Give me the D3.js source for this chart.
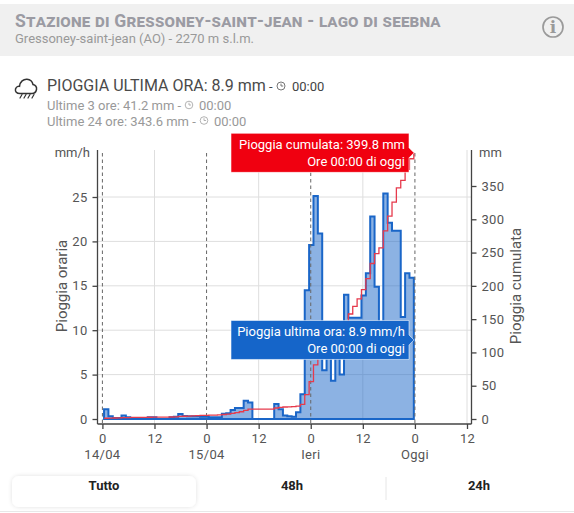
<!DOCTYPE html>
<html lang="it">
<head>
<meta charset="utf-8">
<title>Gressoney-saint-jean - pioggia</title>
<script src="https://cdn.jsdelivr.net/npm/d3@7"></script>
<style>
  html, body { margin: 0; padding: 0; background: #fff; }
  svg { display: block; font-family: Roboto, "Liberation Sans", sans-serif; }
  .axis path, .axis line { stroke: #444; stroke-width: 1.3; }
  .axis text { font-size: 13px; fill: #555; font-family: Roboto, sans-serif; letter-spacing: .3px; }
</style>
</head>
<body>
<svg id="chart" width="574" height="513"></svg>
<script>
// Hourly rainfall (mm/h), one sample per hour from 14/04 00:00 to today 00:00
const hourlyRain = [
  1.1, 0.3, 0.1, 0.1, 0.4, 0.2, 0.1, 0.1, 0, 0, 0.2, 0.2,
  0, 0, 0, 0.2, 0.25, 0.55, 0.35, 0.3, 0.3, 0.3, 0.25, 0.25,
  0.2, 0.2, 0.2, 0.6, 0.65, 1.0, 1.25, 1.25, 2.05, 1.85, 0, 0,
  0, 0, 0, 1.7, 1.1, 0.4, 0.3, 0.25, 0.75, 2.8, 14.5, 19.6,
  25.1, 20.9, 5.5, 7.9, 4.3, 7.4, 5.0, 14.0, 11.4, 11.4, 11.4, 13.9,
  16.4, 22.8, 14.9, 8.7, 25.4, 22.1, 21.2, 21.2, 11.5, 16.4, 15.9, 8.9
];
// Accumulated rainfall (mm) at the same samples
const cumulativeRain = [
  1.1, 1.4, 1.5, 1.6, 2.0, 2.2, 2.3, 2.4, 2.4, 2.4, 2.6, 2.8,
  2.8, 2.8, 2.8, 3.0, 3.25, 3.8, 4.15, 4.45, 4.75, 5.05, 5.3, 5.55,
  5.75, 5.95, 6.15, 6.75, 7.4, 8.4, 9.65, 10.9, 12.95, 14.8, 14.8, 14.8,
  14.8, 14.8, 14.8, 16.5, 17.6, 18.0, 18.3, 18.55, 19.3, 22.1, 36.6, 56.2,
  81.3, 102.2, 107.7, 115.6, 119.9, 127.3, 132.3, 146.3, 157.7, 169.1, 180.5, 194.4,
  210.8, 233.6, 248.5, 257.2, 282.6, 304.7, 325.9, 347.1, 358.6, 375.0, 390.9, 399.8
];
const hourTicks = [0, 12, 24, 36, 48, 60, 72, 84];
const hourTickLabels = ["0", "12", "0", "12", "0", "12", "0", "12"];
const dayLabels = [["14/04", 0], ["15/04", 24], ["Ieri", 48], ["Oggi", 72]];
const midnightHours = [0, 24, 48, 72];
const noonHours = [12, 36, 60, 84];
const rateTicks = [0, 5, 10, 15, 20, 25];
const totalTicks = [0, 50, 100, 150, 200, 250, 300, 350];
const detailRows = [["Ultime 3 ore: 41.2 mm - ", "00:00"], ["Ultime 24 ore: 343.6 mm - ", "00:00"]];
const rangeTabs = ["Tutto", "48h", "24h"];

const svg = d3.select("#chart");

// Station header band
svg.append("rect").attr("x", 0).attr("y", 4).attr("width", 574).attr("height", 52).attr("fill", "#f0f0f0");
svg.append("text").attr("x", 15).attr("y", 27)
  .attr("font-size", 17.6).attr("font-weight", 700).attr("fill", "#9b9ba3")
  .style("font-variant", "small-caps").style("letter-spacing", ".2px")
  .text("Stazione di Gressoney-saint-jean - lago di seebna");
svg.append("text").attr("x", 15).attr("y", 43).attr("font-size", 13).attr("fill", "#999")
  .text("Gressoney-saint-jean (AO) - 2270 m s.l.m.");
svg.append("circle").attr("cx", 553).attr("cy", 27).attr("r", 10)
  .attr("fill", "none").attr("stroke", "#9a9a9a").attr("stroke-width", 1.7);
svg.append("text").attr("x", 553).attr("y", 33).attr("text-anchor", "middle")
  .attr("font-size", 17).attr("font-weight", 700).attr("fill", "#9a9a9a")
  .attr("font-family", "'DejaVu Serif', serif").text("i");

// Small clock glyph used next to timestamps
function clock(cx, cy, r, color) {
  const g = svg.append("g").attr("fill", "none").attr("stroke", color).attr("stroke-width", .9);
  g.append("circle").attr("cx", cx).attr("cy", cy).attr("r", r);
  g.append("path").attr("d", `M${cx} ${cy - r * .6}V${cy}H${cx + r * .55}`);
}

// Rain cloud glyph
const rainIcon = svg.append("g").attr("transform", "translate(15,78)")
  .attr("fill", "none").attr("stroke", "#333").attr("stroke-width", 1.5).attr("stroke-linecap", "round");
rainIcon.append("path").attr("d", "M5 15.5C1.5 15.5 0 13.5 0.5 11C1 9 3 8 4.5 8.3C5 3.5 8.5 1 12 1.2C15.5 1.4 17.5 4 18 6.5C20.5 7 22 9 21.5 11.5C21 14 19.5 15.5 17 15.5Z");
rainIcon.append("path").attr("stroke-width", 1.2).attr("d", "M7 16.5L5 20M11 16.5L9 20M15 16.5L13 20M19 16.5L17 20");

// Latest reading
svg.append("text").attr("x", 47).attr("y", 91).attr("font-size", 16).attr("fill", "#4a4a4a")
  .text("PIOGGIA ULTIMA ORA: 8.9 mm");
svg.append("text").attr("x", 269).attr("y", 91).attr("font-size", 13).attr("fill", "#444").text("-");
clock(281, 86, 4, "#666");
svg.append("text").attr("x", 292).attr("y", 91).attr("font-size", 13).attr("fill", "#444").text("00:00");
const detailClockX = [189, 204];
const detailTimeX = [199, 214];
detailRows.forEach((row, i) => {
  const base = 110 + i * 15.5;
  svg.append("text").attr("x", 47).attr("y", base).attr("font-size", 13).attr("fill", "#999").text(row[0]);
  clock(detailClockX[i], base - 5, 3.8, "#aaa");
  svg.append("text").attr("x", detailTimeX[i]).attr("y", base).attr("font-size", 13).attr("fill", "#999").text(row[1]);
});

// Scales
const x = d3.scaleLinear().domain([0, 84]).range([102.4, 467]);
const sampleX = d3.scaleLinear().domain([0, hourlyRain.length - 1]).range([x(0.38), x(71.75)]);
const yRate = d3.scaleLinear().domain([0, 25]).range([419, 197]);
const yTotal = d3.scaleLinear().domain([0, 350]).range([419, 186]);
const plot = { left: 97.5, right: 471.5, top: 150, bottom: 424 };

// Grid
const grid = svg.append("g").attr("stroke", "#dedede").attr("stroke-width", 1);
grid.selectAll(".h").data(rateTicks.slice(1)).join("line")
  .attr("x1", plot.left).attr("x2", plot.right).attr("y1", d => yRate(d)).attr("y2", d => yRate(d));
grid.selectAll(".v").data(noonHours).join("line")
  .attr("x1", d => x(d)).attr("x2", d => x(d)).attr("y1", plot.top).attr("y2", plot.bottom);

// Hourly rainfall steps
const rainArea = d3.area().curve(d3.curveStepAfter)
  .x((d, i) => sampleX(i)).y0(yRate(0)).y1(d => yRate(d));
svg.append("path").datum(hourlyRain).attr("d", rainArea)
  .attr("fill", "#1a66c8").attr("fill-opacity", .5).attr("stroke", "none");
svg.append("path").datum(hourlyRain).attr("d", rainArea)
  .attr("fill", "none").attr("stroke", "#1a66c8").attr("stroke-width", 2).attr("stroke-linejoin", "miter");

// Midnight markers
svg.append("g").selectAll("line").data(midnightHours).join("line")
  .attr("x1", d => x(d)).attr("x2", d => x(d)).attr("y1", 153).attr("y2", plot.bottom)
  .attr("stroke", "#666").attr("stroke-width", 1).attr("stroke-dasharray", "3.5,3");

// Accumulated rainfall steps
const totalLine = d3.line().curve(d3.curveStepAfter)
  .x((d, i) => sampleX(i)).y(d => yTotal(d));
svg.append("path").datum(cumulativeRain).attr("d", totalLine)
  .attr("fill", "none").attr("stroke", "#e63a4c").attr("stroke-width", 1.3);

// Axes
const bottomAxis = d3.axisBottom(x).tickValues(hourTicks)
  .tickFormat((d, i) => hourTickLabels[i]).tickSize(5).tickPadding(5).tickSizeOuter(0);
const gx = svg.append("g").attr("class", "axis").attr("transform", `translate(0,${plot.bottom})`).call(bottomAxis);
gx.select(".domain").attr("d", `M${plot.left},0H${plot.right}`);

const leftAxis = d3.axisLeft(yRate).tickValues(rateTicks).tickSize(5).tickPadding(5).tickSizeOuter(0);
const gl = svg.append("g").attr("class", "axis").attr("transform", `translate(${plot.left},0)`).call(leftAxis);
gl.select(".domain").attr("d", `M0,${plot.top}V${plot.bottom}`);

const rightAxis = d3.axisRight(yTotal).tickValues(totalTicks).tickSize(5).tickPadding(5).tickSizeOuter(0);
const gr = svg.append("g").attr("class", "axis").attr("transform", `translate(${plot.right},0)`).call(rightAxis);
gr.select(".domain").attr("d", `M0,${plot.top}V${plot.bottom}`);

// Axis captions and units
const caption = (text, tx, ty, anchor, size, fill) => svg.append("text")
  .attr("x", tx).attr("y", ty).attr("text-anchor", anchor)
  .attr("font-size", size).attr("fill", fill).text(text);
caption("mm/h", 90, 157, "end", 13, "#555");
caption("mm", 479, 157, "start", 13, "#555");
caption("Pioggia oraria", 0, 0, "middle", 15, "#555").attr("transform", "translate(67,286) rotate(-90)");
caption("Pioggia cumulata", 0, 0, "middle", 15, "#555").attr("transform", "translate(521,286) rotate(-90)");
dayLabels.forEach(d => caption(d[0], x(d[1]), 459, "middle", 13, "#555").style("letter-spacing", ".3px"));

// Value callouts pointing at the last samples
function callout(value, scale, color, lines) {
  const tipY = scale(value), tipX = 414, left = 231, right = 409, half = 19.5;
  svg.append("path")
    .attr("d", `M${left},${tipY - half}H${right}V${tipY - 5}L${tipX},${tipY}L${right},${tipY + 5}V${tipY + half}H${left}Z`)
    .attr("fill", color).attr("stroke", "#fff").attr("stroke-opacity", .55).attr("stroke-width", 1);
  lines.forEach((t, i) => svg.append("text")
    .attr("x", 405).attr("y", tipY - 4 + i * 17).attr("text-anchor", "end")
    .attr("font-size", 13).attr("fill", "#fff").text(t));
}
callout(cumulativeRain[cumulativeRain.length - 1], yTotal, "#f00010",
  ["Pioggia cumulata: 399.8 mm", "Ore 00:00 di oggi"]);
callout(hourlyRain[hourlyRain.length - 1], yRate, "#1565c9",
  ["Pioggia ultima ora: 8.9 mm/h", "Ore 00:00 di oggi"]);

// Range selector
const defs = svg.append("defs");
const shadow = defs.append("filter").attr("id", "pill").attr("x", "-5%").attr("y", "-20%").attr("width", "110%").attr("height", "140%");
shadow.append("feDropShadow").attr("dx", 0).attr("dy", 0).attr("stdDeviation", 2).attr("flood-color", "#000").attr("flood-opacity", .12);
svg.append("rect").attr("x", 12).attr("y", 476).attr("width", 184).attr("height", 31).attr("rx", 7)
  .attr("fill", "#fff").attr("filter", "url(#pill)");
svg.append("line").attr("x1", 386).attr("x2", 386).attr("y1", 477).attr("y2", 500).attr("stroke", "#e6e6e6");
const tabX = [104, 292, 479];
rangeTabs.forEach((t, i) => svg.append("text").attr("x", tabX[i]).attr("y", 490)
  .attr("text-anchor", "middle").attr("font-size", 13).attr("font-weight", 700).attr("fill", "#222").text(t));
svg.append("line").attr("x1", 0).attr("x2", 574).attr("y1", 511.5).attr("y2", 511.5).attr("stroke", "#e8e8e8");
</script>
</body>
</html>
